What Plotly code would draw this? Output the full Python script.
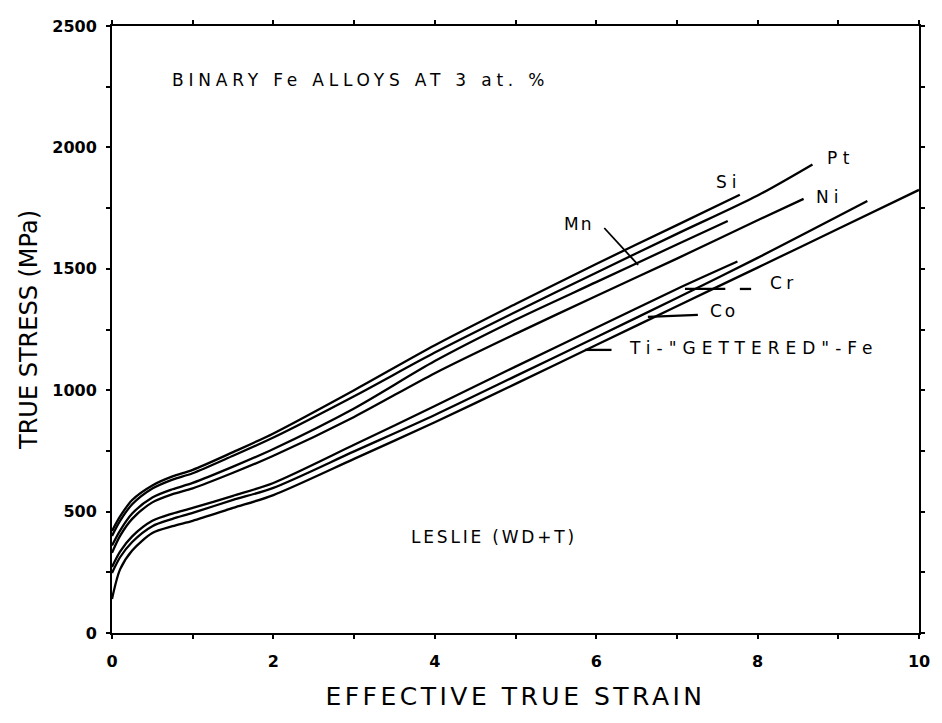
import plotly.graph_objects as go

# ---- data ----
si_x = [0, 0.1, 0.25, 0.5, 0.75, 1, 1.5, 2, 3, 4, 5, 6, 7, 7.78]
si_y = [420, 480, 548, 608, 645, 672, 745, 822, 1000, 1185, 1355, 1520, 1680, 1805]

pt_x = [0, 0.1, 0.25, 0.5, 0.75, 1, 1.5, 2, 3, 4, 5, 6, 7, 8, 8.68]
pt_y = [400, 462, 530, 595, 632, 658, 730, 805, 975, 1155, 1322, 1484, 1644, 1802, 1930]

mn_x = [0, 0.1, 0.25, 0.5, 0.75, 1, 1.5, 2, 3, 4, 5, 6, 7, 7.63]
mn_y = [360, 422, 492, 558, 592, 618, 685, 758, 925, 1120, 1290, 1445, 1600, 1697]

ni_x = [0, 0.1, 0.25, 0.5, 0.75, 1, 1.5, 2, 3, 4, 5, 6, 7, 8, 8.57]
ni_y = [330, 400, 470, 538, 572, 596, 660, 730, 890, 1070, 1232, 1388, 1542, 1700, 1788]

cr_x = [0, 0.1, 0.25, 0.5, 0.75, 1, 1.5, 2, 3, 4, 5, 6, 7, 7.75]
cr_y = [272, 335, 398, 462, 492, 515, 565, 618, 775, 935, 1097, 1257, 1417, 1530]

co_x = [0, 0.1, 0.25, 0.5, 0.75, 1, 1.5, 2, 3, 4, 5, 6, 7, 8, 9.36]
co_y = [247, 312, 375, 440, 470, 495, 548, 598, 748, 898, 1058, 1218, 1380, 1545, 1779]

ti_x = [0, 0.1, 0.25, 0.5, 0.75, 1, 1.5, 2, 3, 4, 5, 6, 7, 8, 9, 10]
ti_y = [140, 262, 340, 412, 440, 462, 515, 568, 717, 868, 1026, 1186, 1346, 1505, 1665, 1825]

x_ticks = [0, 2, 4, 6, 8, 10]
y_ticks = [0, 500, 1000, 1500, 2000, 2500]

series = [("Si", si_x, si_y), ("Pt", pt_x, pt_y), ("Mn", mn_x, mn_y),
          ("Ni", ni_x, ni_y), ("Cr", cr_x, cr_y), ("Co", co_x, co_y),
          ("Ti-gettered Fe", ti_x, ti_y)]

fig = go.Figure()
for name, xs, ys in series:
    fig.add_trace(go.Scatter(x=xs, y=ys, mode="lines", name=name,
                             line=dict(color="black", width=2.3, shape="spline", smoothing=0.8),
                             showlegend=False))


def spaced(text, spacing):
    return '<span style="letter-spacing:%.1fpx">%s</span>' % (spacing, text)


def label(text, x, y, spacing, size=17):
    fig.add_annotation(x=x, y=y, text=spaced(text, spacing),
                       showarrow=False, xanchor="left", yanchor="middle",
                       font=dict(family="DejaVu Sans", size=size, color="black"))


def leader(x0, y0, x1, y1, w=2.3):
    fig.add_shape(type="line", x0=x0, y0=y0, x1=x1, y1=y1, xref="x", yref="y",
                  line=dict(color="black", width=w))


label("BINARY Fe ALLOYS AT 3 at. %", 0.72, 2278, 4.8)
label("LESLIE (WD+T)", 3.68, 395, 2.8)
label("Si", 7.46, 1858, 5)
label("Pt", 8.84, 1956, 5.5)
label("Ni", 8.70, 1796, 5)
label("Mn", 5.57, 1685, 2)
leader(6.1, 1668, 6.52, 1516, 1.8)
label("Cr", 8.13, 1442, 4.5)
leader(7.1, 1417, 7.6, 1417)
leader(7.78, 1417, 7.92, 1417)
label("Co", 7.39, 1326, 3)
leader(6.64, 1302, 7.26, 1310)
label("Ti-\"GETTERED\"-Fe", 6.38, 1174, 6)
leader(5.86, 1166, 6.19, 1166)

axis_common = dict(showline=True, linecolor="black", linewidth=2, mirror="allticks",
                   ticks="outside", ticklen=4, tickwidth=2, tickcolor="black",
                   showgrid=False, zeroline=False,
                   tickfont=dict(family="DejaVu Sans", size=16, color="black", weight="bold"))

fig.update_xaxes(range=[0, 10], tickvals=x_ticks, ticktext=[str(v) for v in x_ticks],
                 minor=dict(dtick=1, ticks="outside", ticklen=4, tickwidth=2, tickcolor="black"),
                 title=dict(text=spaced("EFFECTIVE TRUE STRAIN", 3.5), standoff=17,
                            font=dict(family="DejaVu Sans", size=25, color="black")),
                 ticklabelstandoff=9, **axis_common)
fig.update_yaxes(range=[0, 2500], tickvals=y_ticks, ticktext=[str(v) for v in y_ticks],
                 minor=dict(dtick=250, ticks="outside", ticklen=4, tickwidth=2, tickcolor="black"),
                 title=dict(text="TRUE STRESS (MPa)", standoff=8,
                            font=dict(family="DejaVu Sans", size=24, color="black")),
                 ticklabelstandoff=6, **axis_common)

fig.update_layout(width=942, height=723, margin=dict(l=112, r=20, t=26, b=90),
                  paper_bgcolor="white", plot_bgcolor="white")

fig.write_html("out.html")
